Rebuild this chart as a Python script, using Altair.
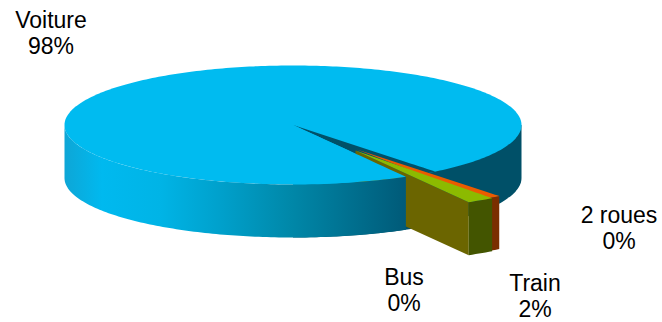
import altair as alt
import numpy as np
import pandas as pd

# Modal split, in percent of trips
categories = ["2 roues", "Train", "Bus", "Voiture"]
shares = [0.49, 1.95, 0.03, 97.53]
label_x = [619, 535, 404, 51]
label_y = [216, 284, 278, 21]

# Disc geometry in chart units
W, H = 662, 322
CX, CY = 293.0, 125.0
RX, RY = 228.5, 59.5
DEPTH = 53.0
START = 51.5               # angle at which the first slice begins
PULL_ROUES = (64.0, 24.5)  # offsets of the pulled-out slices
PULL_TRAIN = (62.5, 25.5)

BLUE = "#00bbf0"
TEAL = "#005068"
OLIVE = "#6b6500"
LEAF = "#8cba00"
MOSS = "#435500"
ORANGE = "#ea5b00"
RUST = "#7a2e00"

X_SCALE = alt.Scale(domain=[0, W])
Y_SCALE = alt.Scale(domain=[H, 0])


def rim(cx, cy, deg):
    t = np.radians(deg)
    return cx + RX * np.cos(t), cy + RY * np.sin(t)


def wedge(cx, cy, a, b):
    """Narrow sector seen from above, as upper and lower edges over x."""
    xa, ya = rim(cx, cy, a)
    arc = np.linspace(b, a, 8)
    ax, ay = rim(cx, cy, arc)
    xs = np.concatenate([[cx], ax])
    upper = cy + (xs - cx) * (ya - cy) / (xa - cx)
    lower = np.concatenate([[cy], ay])
    return pd.DataFrame({"px": xs, "top": upper, "bot": lower})


def wall(cx, cy, a, b):
    """Outer face of a slice between two rim angles."""
    ax, ay = rim(cx, cy, np.linspace(b, a, 8))
    return pd.DataFrame({"px": ax, "top": ay, "bot": ay + DEPTH})


def area(df, fill):
    return (
        alt.Chart(df)
        .mark_area(color=fill, interpolate="linear")
        .encode(
            x=alt.X("px:Q", scale=X_SCALE, axis=None),
            y=alt.Y("top:Q", scale=Y_SCALE, axis=None),
            y2=alt.Y2("bot:Q"),
        )
    )


# Angular extent of each slice, clockwise from START
spans = np.array(shares) * 3.6
ends = START + np.cumsum(spans)
begins = ends - spans
roues_a, roues_b = begins[0], ends[0]
train_a, train_b = begins[1], ends[1]
car_a = begins[3]

pulled_roues = (CX + PULL_ROUES[0], CY + PULL_ROUES[1])
pulled_train = (CX + PULL_TRAIN[0], CY + PULL_TRAIN[1])

# Full ellipse of the top face
sweep = np.radians(np.linspace(180, 0, 181))
top_face = pd.DataFrame(
    {
        "px": CX + RX * np.cos(sweep),
        "top": CY - RY * np.sin(sweep),
        "bot": CY + RY * np.sin(sweep),
    }
)

# Dark inner side of the disc, seen to the right of the gap
right_t = np.radians(np.linspace(90, 0, 91))
back_wall = pd.DataFrame(
    {
        "px": CX + RX * np.cos(right_t),
        "top": CY,
        "bot": CY + RY * np.sin(right_t) + DEPTH,
    }
)

# Lit front side of the large slice, from the left edge to the gap
fx, fy = rim(CX, CY, np.linspace(180, car_a, 120))
front = pd.DataFrame({"px": fx, "top": fy, "bot": fy + DEPTH})

# Top of the large slice in front of the gap
cx_end, cy_end = rim(CX, CY, car_a)
gx, gy = rim(CX, CY, np.linspace(90, car_a, 20))
car_lower = pd.DataFrame(
    {
        "px": gx,
        "top": CY + (gx - CX) * (cy_end - CY) / (cx_end - CX),
        "bot": gy,
    }
)

gap = wedge(CX, CY, START, car_a)

# Side of the pulled-out train slice along its lower radial edge
tx, ty = rim(*pulled_train, train_b)
cut_x = np.array([pulled_train[0], tx])
cut_y = np.array([pulled_train[1], ty])
train_cut = pd.DataFrame({"px": cut_x, "top": cut_y, "bot": cut_y + DEPTH})

gradient = alt.Gradient(
    gradient="linear",
    x1=0, x2=1, y1=0, y2=0,
    stops=[
        alt.GradientStop(color="#0ea6d6", offset=0),
        alt.GradientStop(color="#00b9ef", offset=0.11),
        alt.GradientStop(color="#00b4e6", offset=0.28),
        alt.GradientStop(color="#00a0cb", offset=0.46),
        alt.GradientStop(color="#0088a9", offset=0.66),
        alt.GradientStop(color="#005a78", offset=1),
    ],
)

labels = pd.DataFrame(
    {
        "name": categories,
        "pct": [f"{round(v):d}%" for v in shares],
        "lx": label_x,
        "ly": label_y,
    }
)
labels["ly2"] = labels["ly"] + 26

text_style = dict(font="Liberation Sans", fontSize=23, color="#000000", align="center", baseline="middle")
x_pos = alt.X("lx:Q", scale=X_SCALE, axis=None)
name_text = alt.Chart(labels).mark_text(**text_style).encode(
    x=x_pos,
    y=alt.Y("ly:Q", scale=Y_SCALE, axis=None),
    text="name:N",
)
pct_text = alt.Chart(labels).mark_text(**text_style).encode(
    x=x_pos,
    y=alt.Y("ly2:Q", scale=Y_SCALE, axis=None),
    text="pct:N",
)

# The orange slice runs on beneath the green one so no gap opens between them
tuck = train_a + 3.0

chart = (
    alt.layer(
        area(back_wall, TEAL),
        area(top_face, BLUE),
        area(gap, TEAL),
        area(train_cut, OLIVE),
        area(front, gradient),
        area(car_lower, BLUE),
        area(wall(*pulled_roues, roues_a, tuck), RUST),
        area(wall(*pulled_train, train_a, train_b), MOSS),
        area(wedge(*pulled_roues, roues_a, tuck), ORANGE),
        area(wedge(*pulled_train, train_a, train_b), LEAF),
        name_text,
        pct_text,
    )
    .properties(
        width=W,
        height=H,
        padding=0,
        background="white",
        autosize=alt.AutoSizeParams(type="none"),
    )
    .configure_view(stroke=None)
)

chart.save("out.html", embed_options={"renderer": "svg", "actions": False})
